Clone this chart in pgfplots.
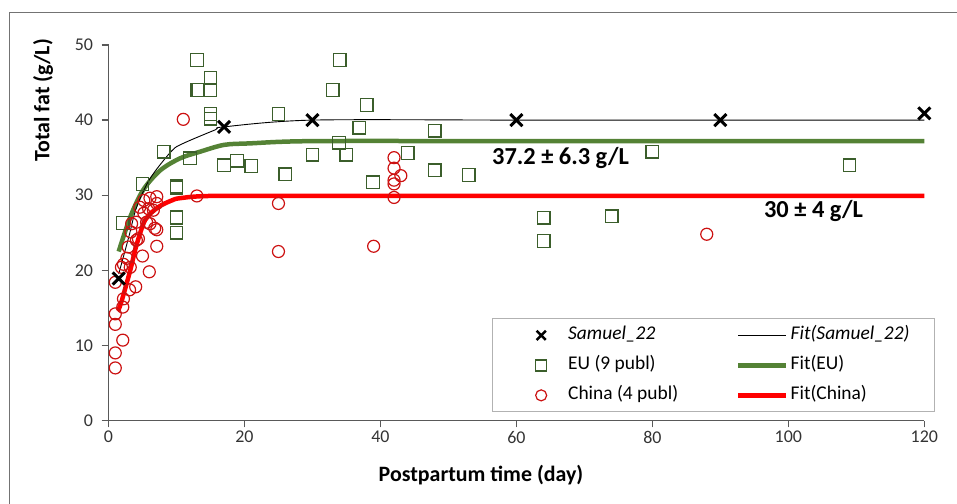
\documentclass[border=0pt]{standalone}
\usepackage{fontspec}
\setmainfont{Carlito}
\usepackage{pgfplots}
\pgfplotsset{compat=1.18}
\definecolor{eusq}{HTML}{3B5E2B}
\definecolor{eufit}{HTML}{548235}
\definecolor{cncirc}{HTML}{CC1111}
\definecolor{cnfit}{HTML}{FF0000}
\definecolor{axgray}{HTML}{595959}
\pgfplotsset{
  markleg/.style={legend image code/.code={\path[draw=none] (0bp,0bp) (51bp,0bp); \draw[##1] plot coordinates {(26bp,0bp)};}},
  lineleg/.style={legend image code/.code={\draw[##1] (0bp,0bp) -- (48bp,0bp);}},
}
\begin{document}
\begin{tikzpicture}
\useasboundingbox (0,0) rectangle (957bp,504bp);
\draw[black!55, line width=0.8bp] (9.5bp,-2bp) -- (9.5bp,491.5bp) -- (960bp,491.5bp);
\begin{axis}[
  at={(108.5bp,83.5bp)}, anchor=south west,
  width=815.8bp, height=375.5bp, scale only axis,
  xmin=0, xmax=120, ymin=0, ymax=50,
  axis x line=bottom, axis y line=left,
  axis line style={-, axgray, line width=1.5bp},
  xtick={0,20,...,120}, ytick={0,10,...,50},
  tick align=outside, major tick length=7bp,
  tick style={axgray, line width=1.2bp},
  ticklabel style={font=\fontsize{18}{20}\selectfont, text=black!80},
  yticklabel style={xshift=-5bp},
  /pgf/number format/assume math mode=true,
  xlabel={Postpartum time (day)}, ylabel={Total fat (g/L)},
  label style={font=\fontsize{22}{25}\selectfont\bfseries},
  xlabel style={at={(axis description cs:0.4566,-0.145)}, anchor=center},
  ylabel style={at={(axis description cs:-0.0803,0.853)}, anchor=center},
  clip=false,
  legend columns=2,
  legend cell align=left,
  legend style={at={(axis description cs:0.4697,0.272)}, anchor=north west,
    draw=black!30, line width=1bp, inner xsep=23bp, inner ysep=5.5bp,
    font=\fontsize{19.5}{22}\selectfont, row sep=8bp,
    nodes={text height=13.5bp, text depth=4.5bp, inner sep=2bp},
    /tikz/every even column/.append style={column sep=56bp}},
]
% EU (9 publ)
\addplot[forget plot, only marks, mark=square, mark size=6.3bp, color=eusq, mark options={line width=1.3bp}] coordinates {
(2.1,26.3) (5,31.5) (8.1,35.8) (10,31) (10,31.2) (10,27) (10,27.1) (10,25)
(12,34.9) (13,48) (13,44) (13.2,44) (15,45.6) (15,44) (15,40.8) (15,40.2)
(17,34) (18.9,34.6) (21,33.9) (25,40.8) (26,32.8) (30,35.4) (33,44) (34,48)
(33.9,37) (35,35.4) (36.9,39) (38,42) (38.9,31.7) (44,35.6) (48,38.6) (48,33.3)
(53,32.7) (64,27) (64,23.9) (74,27.2) (80,35.8) (109,34)
};
% China (4 publ)
\addplot[forget plot, only marks, mark=o, mark size=6bp, color=cncirc, mark options={line width=1.2bp}] coordinates {
(1,7) (1,9) (2.1,10.7) (1,12.8) (1,14.2) (2.1,15.1) (2.2,16.2) (1,18.4) (3.1,17.4)
(4,17.8) (1.9,20.4) (3.2,20.4) (2.2,20.8) (2.7,21.6) (5,21.9) (6,19.8) (2.9,23.1)
(4.1,24) (3.3,25.1) (7.1,23.2) (7.1,25.4) (3.4,26.2) (6.1,26.2) (4.1,26.4) (5.6,26.4)
(5.2,27.6) (6.6,28) (5.9,28.2) (4.6,28.4) (7.1,28.9) (5.2,29.3) (6.1,29.6) (7.1,29.8)
(4.4,24.2) (6.8,25.6) (11,40.1) (13,29.9) (25,28.9) (25,22.5) (39,23.2) (42,35)
(42,33.6) (43,32.6) (42,32) (42,31.5) (42,29.7) (88,24.8)
};
% Fit(EU)
\addplot[forget plot, eufit, line width=4.5bp, smooth, tension=0.5] coordinates {
(1.5,22.5) (3.2,27.1) (5.1,30.7) (7.6,33.3) (10.5,34.9) (13.5,35.8) (17,36.7) (20.8,36.9) (30,37.2) (60,37.2) (90,37.2) (120,37.2)
};
% Fit(China)
\addplot[forget plot, cnfit, line width=4.5bp, smooth, tension=0.5] coordinates {
(1.4,14.6) (1.9,15.8) (3.2,20) (4.1,23.3) (5.4,26.7) (7.3,28.4) (9.3,29.3) (10.5,29.6) (15,29.9) (30,29.9) (60,29.9) (90,29.9) (120,29.9)
};
% Fit(Samuel_22)
\addplot[forget plot, black, line width=0.9bp, smooth, tension=0.5] coordinates {
(1.5,19.5) (3,24.5) (4.1,28.3) (6.1,32.2) (9.3,35.9) (11,36.9) (15.7,38.7) (17,39.1) (30,40) (60,40) (90,40) (120,40)
};
% Samuel_22
\addplot[forget plot, only marks, mark=x, mark size=8.5bp, color=black, mark options={line width=3bp}] coordinates {
(1.5,18.9) (17,39.1) (30,40) (60,40) (90,40) (120,40.9)
};
% legend
\addlegendimage{only marks, mark=x, mark size=6.5bp, black, mark options={line width=2.5bp}, markleg}
\addlegendentry{\textit{Samuel\_22}}
\addlegendimage{black, line width=0.9bp, lineleg}
\addlegendentry{\textit{Fit(Samuel\_22)}}
\addlegendimage{only marks, mark=square, mark size=5.5bp, eusq, mark options={line width=1.3bp}, markleg}
\addlegendentry{EU (9 publ)}
\addlegendimage{eufit, line width=4.5bp, lineleg}
\addlegendentry{Fit(EU)}
\addlegendimage{only marks, mark=o, mark size=5.5bp, cncirc, mark options={line width=1.2bp}, markleg}
\addlegendentry{China (4 publ)}
\addlegendimage{cnfit, line width=4.5bp, lineleg}
\addlegendentry{Fit(China)}
\node[anchor=west, inner sep=0pt, font=\fontsize{24.5}{27}\selectfont\bfseries] at (axis cs:56.4,34.95) {37.2 ± 6.3 g/L};
\node[anchor=west, inner sep=0pt, font=\fontsize{24.5}{27}\selectfont\bfseries] at (axis cs:96.4,27.9) {30 ± 4 g/L};
\end{axis}
\end{tikzpicture}
\end{document}
